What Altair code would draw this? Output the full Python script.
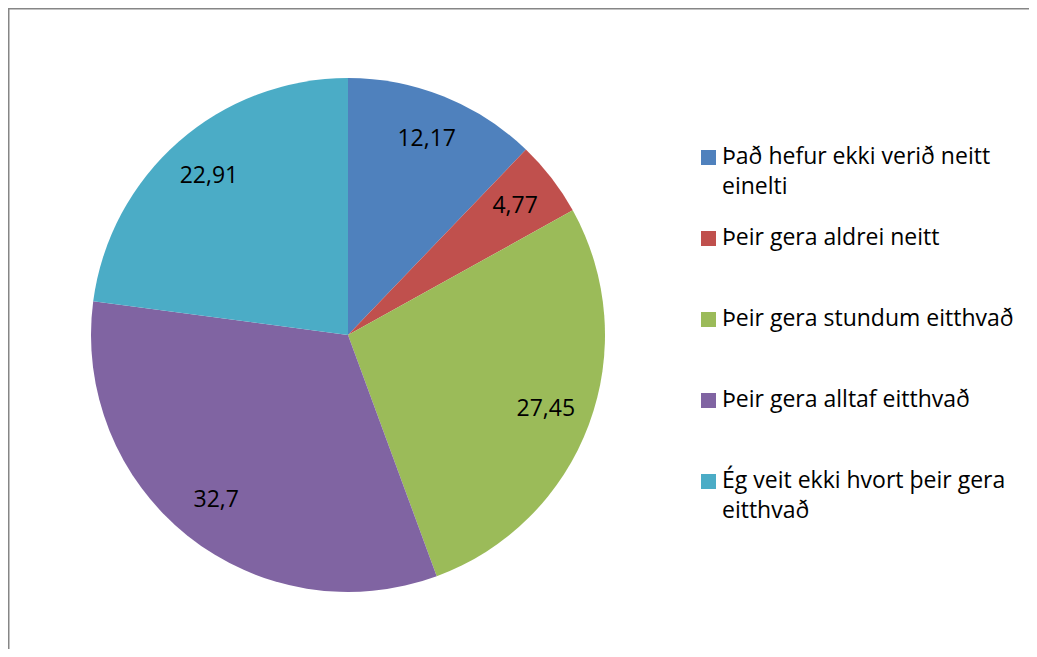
import altair as alt
import pandas as pd

categories = [
    "Það hefur ekki verið neitt einelti",
    "Þeir gera aldrei neitt",
    "Þeir gera stundum eitthvað",
    "Þeir gera alltaf eitthvað",
    "Ég veit ekki hvort þeir gera eitthvað",
]
values = [12.17, 4.77, 27.45, 32.7, 22.91]
value_labels = ["12,17", "4,77", "27,45", "32,7", "22,91"]
legend_lines = [
    ["Það hefur ekki verið neitt", "einelti"],
    ["Þeir gera aldrei neitt", ""],
    ["Þeir gera stundum eitthvað", ""],
    ["Þeir gera alltaf eitthvað", ""],
    ["Ég veit ekki hvort þeir gera", "eitthvað"],
]
colors = ["#4F81BD", "#C0504D", "#9BBB59", "#8064A2", "#4BACC6"]

FONT = "Open Sans"

df = pd.DataFrame({
    "category": categories,
    "value": values,
    "label": value_labels,
    "idx": list(range(len(categories))),
})

# legend label expression (multi-line labels)
expr = "''"
for cat, lines in reversed(list(zip(categories, legend_lines))):
    expr = f"datum.label == '{cat}' ? '{'|'.join(lines)}' : ({expr})"
label_expr = f"split({expr}, '|')"

cx, cy, R = 340, 327, 257

base = alt.Chart(df).encode(
    theta=alt.Theta("value:Q", stack=True),
    order=alt.Order("idx:Q"),
)

pie = base.mark_arc(outerRadius=R).encode(
    x=alt.value(cx),
    y=alt.value(cy),
    color=alt.Color(
        "category:N",
        sort=categories,
        scale=alt.Scale(domain=categories, range=colors),
        legend=alt.Legend(
            title=None,
            orient="none",
            legendX=689,
            legendY=138,
            padding=0,
            symbolType="square",
            symbolSize=225,
            symbolStrokeWidth=0,
            symbolOpacity=1,
            labelFont=FONT,
            labelFontSize=23,
            labelColor="#000000",
            labelOffset=2,
            labelLimit=400,
            labelBaseline="alphabetic",
            labelExpr=label_expr,
            rowPadding=27,
        ),
    ),
)

text = base.mark_text(radius=211, font=FONT, fontSize=23, color="#000000").encode(
    x=alt.value(cx),
    y=alt.value(cy),
    text="label:N",
)

frame_df = pd.DataFrame({"a": [0]})
top_line = alt.Chart(frame_df).mark_rule(color="#868686", strokeWidth=2).encode(
    x=alt.value(0), x2=alt.value(1040), y=alt.value(0.5)
)
left_line = alt.Chart(frame_df).mark_rule(color="#868686", strokeWidth=2).encode(
    x=alt.value(0.5), y=alt.value(0), y2=alt.value(660)
)

chart = (
    alt.layer(pie, text, top_line, left_line)
    .properties(
        width=1021,
        height=641,
        padding=0,
        autosize=alt.AutoSizeParams(type="none"),
    )
    .configure(
        style={
            "guide-label": {"dy": 6, "lineHeight": 30},
            "cell": {"stroke": "transparent", "strokeWidth": 0},
        },
        view=alt.ViewConfig(stroke="transparent", strokeWidth=0),
    )
)

chart.save("out.html", embed_options={"renderer": "svg", "actions": False})
